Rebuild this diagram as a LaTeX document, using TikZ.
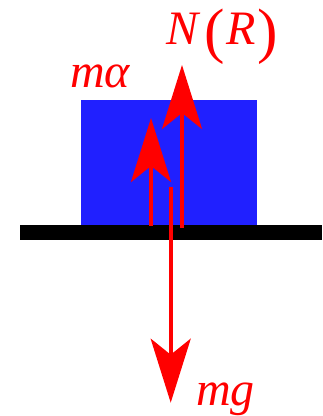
\documentclass[tikz,border=0pt]{standalone}
\usepackage{fontspec}
\setmainfont{Liberation Serif}
\usetikzlibrary{arrows.meta}
\definecolor{blockblue}{HTML}{2020FF}
\definecolor{forcered}{HTML}{FF0000}

\tikzset{
  force/.style={draw=forcered, line width=2.8pt,
    -{Stealth[length=48pt, width=30pt, inset=12pt]}},
  forcelabel/.style={text=forcered, font=\fontsize{36}{40}\selectfont\itshape, inner sep=0pt}
}
\newcommand{\bigparen}[1]{\raisebox{-5pt}{\fontsize{46}{50}\selectfont\upshape#1}}

\begin{document}
\begin{tikzpicture}[x=0.75pt, y=0.75pt]
\useasboundingbox (0,0) rectangle (322,416);
% block and floor
\fill[blockblue] (80.7,190) rectangle (256.7,316);
\fill[black] (20,175.5) rectangle (322,190.5);
% force ends
\coordinate (ma-base) at (151,190);
\coordinate (ma-tip) at (151,298);
\coordinate (n-base) at (182,188);
\coordinate (n-tip) at (182,351);
\coordinate (mg-base) at (170.7,229);
\coordinate (mg-tip) at (170.7,13.3);
\draw[force] (ma-base) -- (ma-tip);
\draw[force] (n-base) -- (n-tip);
\draw[force] (mg-base) -- (mg-tip);
% labels
\node[forcelabel, anchor=base west] (ma) at (70,328) {mα};
\node[forcelabel, anchor=base west] (nr) at (166,371)
  {N\kern5pt\bigparen{(}\kern1ptR\kern1pt\bigparen{)}};
\node[forcelabel, anchor=base west] (mg) at (196,11) {mg};
\end{tikzpicture}
\end{document}
